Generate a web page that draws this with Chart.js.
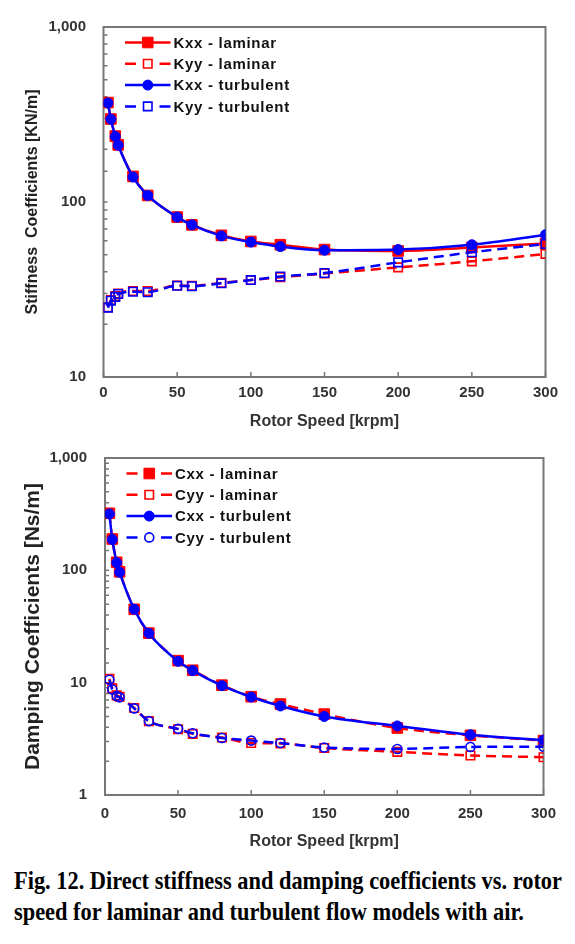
<!DOCTYPE html>
<html><head><meta charset="utf-8">
<script src="https://cdn.jsdelivr.net/npm/chart.js@4.4.1/dist/chart.umd.min.js"></script>
<style>
html,body{margin:0;padding:0;background:#fff;}
body{width:575px;height:944px;position:relative;overflow:hidden;}
#w1{position:absolute;left:0;top:0;width:575px;height:431px;}
#w2{position:absolute;left:0;top:431px;width:575px;height:420px;}
#cap{position:absolute;left:14px;top:865px;font:bold 25px "Liberation Serif","Times New Roman",serif;line-height:31px;color:#000;white-space:nowrap;transform-origin:0 0;}
</style></head><body>
<div id="w1"><canvas id="c1" width="575" height="431"></canvas></div>
<div id="w2"><canvas id="c2" width="575" height="420"></canvas></div>
<div id="cap"><div id="cap1">Fig. 12. Direct stiffness and damping coefficients vs. rotor</div><div>speed for laminar and turbulent flow models with air.</div></div>
<script>
// ---- data ----
const rotorSpeed = [3, 5, 8, 10, 20, 30, 50, 60, 80, 100, 120, 150, 200, 250, 300];
const kxxLaminar   = [370, 298, 238, 212, 140, 109, 82, 74, 64.5, 59.5, 57, 53.5, 52.5, 55, 58];
const kyyLaminar   = [25, 27.5, 29, 30, 31, 31, 33.3, 33.2, 34.5, 35.8, 37.2, 39, 42.3, 45.8, 50.5];
const kxxTurbulent = [368, 297, 237, 211, 139, 109, 82, 74, 64, 59, 55.6, 53, 53.5, 57, 65];
const kyyTurbulent = [24.9, 27.3, 28.7, 29.8, 30.7, 30.5, 33.2, 33.0, 34.3, 35.8, 37.5, 39.3, 45.2, 51.6, 57.6];
const cxxLaminar   = [322, 190, 118, 97, 45, 27.6, 15.7, 12.9, 9.5, 7.5, 6.45, 5.25, 3.95, 3.4, 3.05];
const cyyLaminar   = [10.8, 8.9, 7.7, 7.5, 5.95, 4.55, 3.85, 3.5, 3.25, 2.9, 2.88, 2.62, 2.42, 2.25, 2.17];
const cxxTurbulent = [318, 188, 117, 96, 45, 27.5, 15.5, 12.8, 9.4, 7.45, 6.2, 5.0, 4.12, 3.43, 3.08];
const cyyTurbulent = [10.6, 8.7, 7.6, 7.4, 5.9, 4.55, 3.88, 3.55, 3.22, 3.05, 2.9, 2.65, 2.57, 2.68, 2.69];
const xTickValues = [0, 50, 100, 150, 200, 250, 300];
const stiffTickValues = [10, 100, 1000];
const stiffTickText = ['10', '100', '1,000'];
const dampTickValues = [1, 10, 100, 1000];
const dampTickText = ['1', '10', '100', '1,000'];

const FAM = '"Liberation Sans", Arial, sans-serif';
const RED = '#ff0000', BLUE = '#0000ff', CLEAR = 'rgba(255,255,255,0)';
const DASH = [10, 6];

function series(label, data, color, dashed, style, radius, filled, order) {
  return {
    label, data: rotorSpeed.map((x, i) => ({x, y: data[i]})),
    borderColor: color, borderWidth: 2.5, borderDash: dashed ? DASH : [],
    pointStyle: style, pointRadius: radius, pointBorderColor: color,
    pointBackgroundColor: filled ? color : CLEAR, pointBorderWidth: filled ? 1 : 1.6,
    cubicInterpolationMode: 'monotone', fill: false, order
  };
}

const frame = {
  id: 'frame',
  beforeDatasetsDraw(chart) {
    const {ctx, chartArea: a, scales: {x, y}} = chart;
    ctx.save();
    ctx.strokeStyle = '#777'; ctx.lineWidth = 1.5;
    ctx.beginPath();
    x.ticks.forEach(t => { const px = x.getPixelForValue(t.value); ctx.moveTo(px, a.bottom); ctx.lineTo(px, a.bottom - 5); });
    y.ticks.forEach(t => { const py = y.getPixelForValue(t.value); ctx.moveTo(a.left, py); ctx.lineTo(a.left + 4, py); });
    ctx.stroke();
    ctx.lineWidth = 2;
    ctx.strokeRect(a.left, a.top, a.right - a.left, a.bottom - a.top);
    ctx.restore();
  },
  afterDraw(chart) {
    const {ctx, chartArea: a} = chart;
    ctx.save();
    chart.data.datasets.forEach((ds, i) => {
      const yy = a.top + 15.5 + i * 21.3;
      const x0 = a.left + 21.5, x1 = a.left + 67, xm = (x0 + x1) / 2;
      ctx.strokeStyle = ds.borderColor; ctx.lineWidth = ds.borderWidth;
      ctx.setLineDash([]);
      ctx.beginPath();
      if (ds.borderDash.length) {
        ctx.moveTo(x0, yy); ctx.lineTo(x0 + 11, yy);
        ctx.moveTo(x1 - 11, yy); ctx.lineTo(x1, yy);
      } else {
        ctx.moveTo(x0, yy); ctx.lineTo(x1, yy);
      }
      ctx.stroke();
      ctx.fillStyle = ds.pointBackgroundColor; ctx.strokeStyle = ds.pointBorderColor;
      ctx.lineWidth = ds.pointBorderWidth;
      Chart.helpers.drawPoint(ctx, {pointStyle: ds.pointStyle, radius: ds.pointRadius, borderWidth: ds.pointBorderWidth, rotation: 0}, xm, yy);
      ctx.fillStyle = '#111';
      ctx.font = 'bold 15px ' + FAM;
      ctx.letterSpacing = '0.7px';
      ctx.textBaseline = 'middle'; ctx.textAlign = 'left';
      ctx.fillText(ds.label, x1 + 3, yy + 1);
    });
    ctx.restore();
  }
};

function options(cfg) {
  return {
    responsive: false, animation: false, devicePixelRatio: 1,
    layout: {padding: {left: 0, top: cfg.padTop, right: cfg.padRight, bottom: 0}},
    plugins: {legend: {display: false}, tooltip: {enabled: false}},
    scales: {
      x: {
        type: 'linear', min: 0, max: 300,
        afterBuildTicks: s => { s.ticks = xTickValues.map(v => ({value: v})); },
        afterFit: s => { s.height = cfg.xH; },
        grid: {display: false, drawTicks: false}, border: {display: false},
        ticks: {padding: cfg.xPad, autoSkip: false, maxRotation: 0, color: '#333', font: {family: FAM, size: 15, weight: 'bold'}},
        title: {display: true, text: 'Rotor Speed [krpm]', color: '#333', padding: 0, font: {family: FAM, size: 16, weight: 'bold'}}
      },
      y: {
        type: 'logarithmic', min: cfg.yMin, max: 1000,
        afterFit: s => { s.width = cfg.yW; },
        grid: {display: false, drawTicks: false}, border: {display: false},
        ticks: {padding: cfg.yPad, autoSkip: false, color: '#333', font: {family: FAM, size: 15, weight: 'bold'},
          callback: v => { const i = cfg.tv.findIndex(t => Math.abs(t - v) < 1e-6); return i >= 0 ? cfg.tt[i] : ''; }},
        title: {display: true, text: cfg.yTitle, color: '#222', padding: {top: cfg.yTitlePad, bottom: 0}, font: {family: FAM, size: cfg.yTitleSize, weight: 'bold'}}
      }
    }
  };
}

new Chart(document.getElementById('c1'), {
  type: 'line',
  data: {datasets: [
    series('Kxx - laminar', kxxLaminar, RED, false, 'rect', 7.5, true, 2),
    series('Kyy - laminar', kyyLaminar, RED, true, 'rect', 6, false, 2),
    series('Kxx - turbulent', kxxTurbulent, BLUE, false, 'circle', 5, true, 1),
    series('Kyy - turbulent', kyyTurbulent, BLUE, true, 'rect', 6, false, 1)
  ]},
  options: options({padTop: 27, padRight: 29.5, xH: 54, xPad: 7, yW: 103.5, yPad: 17.5, yMin: 10,
    tv: stiffTickValues, tt: stiffTickText, yTitle: 'Stiffness  Coefficients [KN/m]', yTitleSize: 16, yTitlePad: 23.4}),
  plugins: [frame]
});

new Chart(document.getElementById('c2'), {
  type: 'line',
  data: {datasets: [
    series('Cxx - laminar', cxxLaminar, RED, true, 'rect', 7.5, true, 2),
    series('Cyy - laminar', cyyLaminar, RED, true, 'rect', 6, false, 2),
    series('Cxx - turbulent', cxxTurbulent, BLUE, false, 'circle', 5, true, 1),
    series('Cyy - turbulent', cyyTurbulent, BLUE, true, 'circle', 4.5, false, 1)
  ]},
  options: options({padTop: 15, padRight: 31.5, xH: 56, xPad: 10, yW: 105, yPad: 18, yMin: 1,
    tv: dampTickValues, tt: dampTickText, yTitle: 'Damping Coefficients [Ns/m]', yTitleSize: 21, yTitlePad: 20.4}),
  plugins: [frame]
});

// caption fit
const cap = document.getElementById('cap');
const w1 = document.getElementById('cap1').getBoundingClientRect().width;
cap.style.transform = 'scaleX(' + (548 / w1).toFixed(4) + ')';
</script>
</body></html>
